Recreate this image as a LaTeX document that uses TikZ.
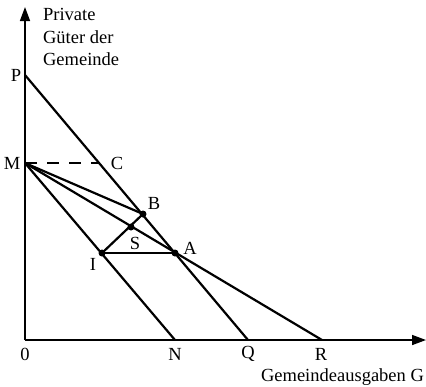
\documentclass[tikz,border=0pt]{standalone}
\usepackage{fontspec}
\setmainfont{Liberation Serif}
\usetikzlibrary{arrows.meta}
\begin{document}
\begin{tikzpicture}[x=1pt,y=-1pt,line width=2.2pt,
  font=\fontsize{18.5}{22}\selectfont,
  lbl/.style={inner sep=0pt},
  pt/.style={circle,fill,inner sep=0pt,minimum size=7pt},
  ax/.style={line width=1.5pt,-{Triangle[length=14pt,width=10pt]}},
  dsh/.style={dash pattern=on 12pt off 10pt}]
\useasboundingbox (0,0) rectangle (426,386);
% points
\coordinate (O) at (25,340);
\coordinate (Ytip) at (25,7);
\coordinate (Xtip) at (426,340);
\coordinate (P) at (25,75);
\coordinate (M) at (25,163);
\coordinate (C) at (99,163);
\coordinate (N) at (175,340);
\coordinate (Q) at (248,340);
\coordinate (R) at (322,340);
\node[pt] (B) at (143,214) {};
\node[pt] (A) at (175,253) {};
\node[pt] (I) at (102,253) {};
\node[pt] (S) at (131,227) {};
% axes
\draw[ax] (O) -- (Ytip);
\draw[ax] (O) -- (Xtip);
% lines
\draw (P) -- (Q);
\draw (M) -- (N);
\draw (M) -- (R);
\draw (M) -- (B.center);
\draw (I.center) -- (B.center);
\draw (I.center) -- (A.center);
\draw[dsh] (M) -- (C);
% labels
\node[lbl,anchor=west] (lt1) at (42,14) {Private};
\node[lbl,anchor=west] (lt2) at (42,37) {Güter der};
\node[lbl,anchor=west] (lt3) at (42,59) {Gemeinde};
\node[lbl] (lP) at (16,75) {P};
\node[lbl] (lM) at (12,163) {M};
\node[lbl] (lC) at (117,163) {C};
\node[lbl] (lB) at (154,203) {B};
\node[lbl] (lS) at (135,243) {S};
\node[lbl] (lA) at (190,248) {A};
\node[lbl] (lI) at (93,264) {I};
\node[lbl] (l0) at (25,354) {0};
\node[lbl] (lN) at (175,354) {N};
\node[lbl] (lQ) at (248,354) {Q};
\node[lbl] (lR) at (321,354) {R};
\node[lbl,anchor=east] (lG) at (425,377) {Gemeindeausgaben G};
\end{tikzpicture}
\end{document}
